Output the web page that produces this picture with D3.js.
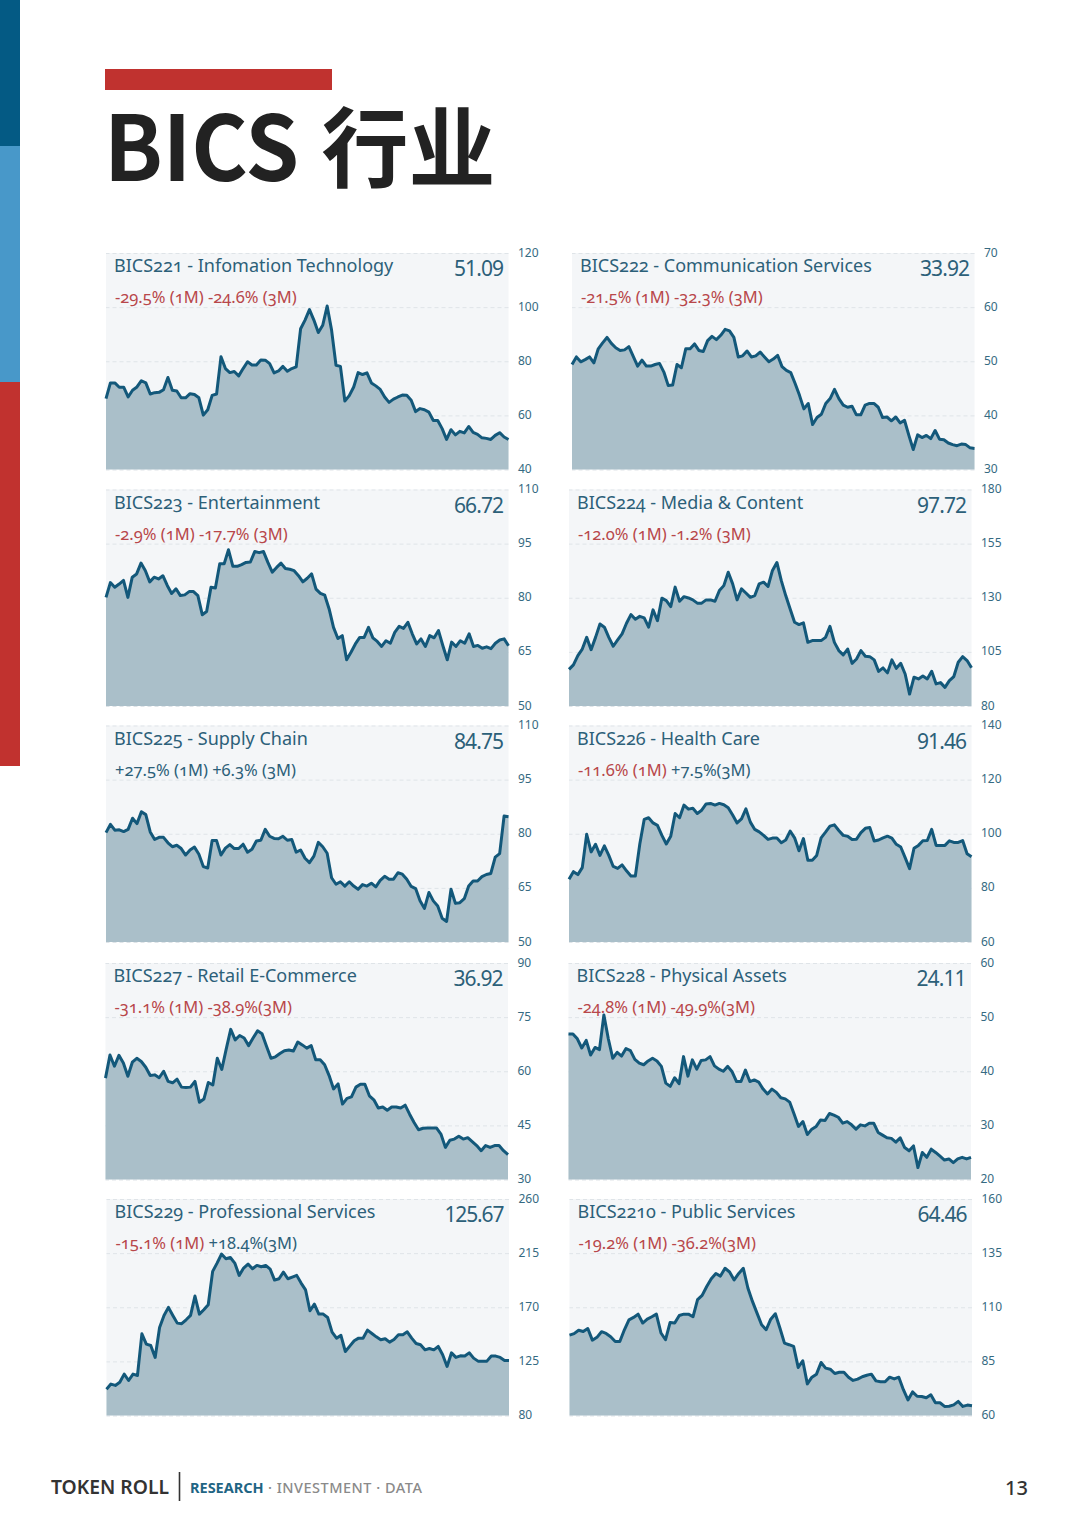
<!DOCTYPE html>
<html>
<head>
<meta charset="utf-8">
<script src="https://cdn.jsdelivr.net/npm/d3@7"></script>
<style>
  html, body { margin: 0; padding: 0; background: #fff; }
  svg { display: block; }
  text { font-family: "Noto Sans", sans-serif; }
  .old-nums { font-variant-numeric: oldstyle-nums; font-feature-settings: "onum" 1; }
</style>
</head>
<body>
<script>
// Index levels
var series221 = [66.2,72.0,72.0,70.4,70.4,66.8,69.3,70.5,72.8,72.0,67.9,68.4,68.5,69.5,74.0,69.3,69.0,66.5,66.5,68.0,67.7,66.5,60.1,62.1,67.4,67.9,81.7,77.3,75.8,76.2,74.6,77.3,79.8,78.6,78.6,80.5,80.4,79.1,75.7,76.4,78.1,76.3,77.3,77.9,92.0,95.2,99.1,95.2,90.6,93.3,100.4,91.5,78.5,78.1,65.3,67.3,70.5,75.8,75.1,75.7,72.0,70.9,69.6,66.8,64.8,66.0,66.8,67.5,67.4,65.6,61.4,62.5,62.1,61.2,58.1,58.1,55.1,51.1,54.7,52.8,54.1,53.5,55.9,53.7,53.0,51.7,51.5,51.1,52.6,53.6,52.0,51.1];
var series222 = [49.4,50.8,49.9,50.3,50.8,49.7,52.3,53.4,54.4,53.3,52.5,52.0,52.1,52.7,50.9,49.1,50.2,49.1,49.1,49.4,49.6,48.0,45.5,45.6,49.4,48.8,52.3,52.3,53.2,52.0,51.8,53.8,54.6,54.0,54.8,55.9,55.6,54.4,50.8,51.0,51.9,50.8,51.0,51.7,50.8,49.9,50.4,51.1,49.0,48.3,47.9,45.9,43.7,41.2,42.2,38.3,39.6,40.2,42.2,43.1,44.8,43.1,41.9,41.5,41.7,40.1,40.1,41.9,42.2,42.2,41.5,39.6,39.7,39.0,39.7,38.6,39.1,36.3,33.7,36.4,35.9,36.3,35.7,37.2,35.6,35.5,34.9,34.6,34.4,34.7,34.6,34.0,33.9];
var series223 = [80.1,84.2,82.9,83.8,84.8,80.1,85.7,86.6,89.6,87.5,84.4,85.7,85.2,86.1,83.4,81.2,82.5,80.6,80.8,81.7,81.7,80.6,75.3,76.2,82.9,82.7,89.4,89.4,93.3,88.7,88.7,89.2,89.8,89.9,92.8,92.5,92.8,89.8,87.1,88.4,89.6,88.1,87.9,87.5,86.1,84.4,85.4,86.6,82.4,81.2,80.7,76.9,71.8,68.7,69.5,62.8,64.9,67.2,69.0,69.0,71.8,68.9,67.9,66.5,68.1,67.4,70.4,72.1,71.5,73.2,70.0,67.2,68.6,66.5,69.5,68.9,70.9,66.7,62.8,67.7,66.5,68.1,67.4,70.0,66.5,66.8,66.0,66.4,65.9,67.4,68.3,68.6,66.7];
var series224 = [96.9,99.0,103.3,106.3,111.7,106.0,111.7,117.9,116.4,111.7,107.6,110.5,113.3,118.2,122.2,120.1,121.4,120.7,116.4,124.4,119.4,129.8,128.7,125.9,134.9,128.4,130.5,129.9,129.0,127.5,127.5,129.0,129.0,128.4,133.3,135.6,141.8,136.4,129.0,134.1,132.2,130.2,131.0,136.4,137.2,135.2,142.6,146.3,137.9,131.0,124.8,118.7,117.6,118.4,109.4,110.2,110.2,110.2,111.7,116.8,109.4,105.6,103.6,106.3,99.7,101.7,105.6,103.0,102.8,101.3,96.0,97.6,95.3,101.3,97.4,99.7,94.8,85.5,93.3,92.5,93.9,92.5,96.0,90.2,90.8,88.6,91.7,93.6,100.2,102.8,101.0,97.7];
var series225 = [80.3,82.6,81.0,81.1,80.6,81.2,84.3,82.8,86.1,85.3,80.5,78.4,79.0,79.0,77.5,76.4,76.8,75.9,74.1,75.5,76.3,74.3,70.9,70.5,78.1,78.1,74.1,76.0,77.0,75.9,75.9,77.1,74.9,75.7,78.0,78.2,81.2,79.3,78.7,78.6,79.3,78.2,78.4,74.9,75.5,73.2,72.0,73.8,77.6,76.4,74.6,67.8,66.0,66.7,65.5,66.7,65.5,64.6,65.9,65.5,66.3,65.3,67.1,68.2,67.4,67.4,69.2,68.8,67.4,65.4,64.8,61.4,59.3,63.7,61.4,60.0,56.6,55.7,64.6,60.7,60.9,62.0,65.5,66.9,66.9,68.1,68.7,69.0,73.5,74.5,84.9,84.7];
var series226 = [83.2,86.0,84.9,87.5,99.8,93.3,96.1,92.0,95.5,92.0,87.9,87.2,88.5,86.3,84.4,84.4,96.1,105.3,105.9,104.0,103.1,99.4,96.2,99.1,107.5,105.9,110.6,109.1,109.4,107.5,108.7,111.0,111.2,110.6,111.2,110.7,109.6,106.9,104.0,105.5,109.2,104.3,101.6,100.7,99.4,97.9,98.4,98.4,96.7,97.7,101.0,98.5,93.7,98.2,90.2,90.2,92.0,98.5,100.6,102.8,103.3,101.2,99.4,99.1,97.9,98.0,100.4,102.0,102.3,97.3,97.7,98.5,99.1,98.4,96.1,95.1,91.2,87.1,94.6,95.7,97.4,97.5,101.6,95.7,95.7,95.7,97.4,96.8,96.8,97.5,92.6,91.5];
var series227 = [58.1,64.5,61.4,64.4,62.3,58.6,62.5,63.6,62.7,61.1,58.8,59.0,58.2,60.0,57.2,56.8,57.8,55.6,55.5,55.6,57.2,51.4,52.3,56.9,56.2,63.6,60.5,66.2,71.6,68.7,69.9,69.2,67.1,69.2,71.2,70.4,66.9,63.6,64.0,64.9,65.7,65.9,65.6,68.1,67.3,66.4,67.1,63.2,63.2,61.8,58.8,55.1,56.5,50.9,52.5,52.9,55.6,56.4,56.4,53.2,52.1,49.8,50.1,49.2,50.1,50.1,49.8,50.6,48.1,45.8,43.8,44.2,44.3,44.3,44.3,42.6,38.9,40.9,41.2,42.0,41.2,41.6,40.5,39.4,38.0,39.4,38.9,39.4,39.4,38.0,36.9];
var series228 = [46.9,46.9,46.0,44.3,45.7,43.0,44.4,44.0,50.4,46.0,42.4,43.5,42.8,44.2,43.8,42.2,41.5,41.2,41.9,42.4,41.9,40.9,37.8,37.2,38.8,37.7,42.7,39.1,42.1,40.4,42.0,42.1,42.7,41.0,40.4,40.0,40.9,39.9,38.1,38.1,40.2,38.1,38.4,38.0,36.7,35.8,36.7,36.1,35.1,34.9,34.3,32.1,29.8,30.7,28.3,29.3,29.8,31.0,30.9,32.2,31.9,31.5,30.4,30.7,30.1,29.3,30.1,29.9,30.4,30.4,28.7,28.2,27.7,27.6,26.9,27.7,25.9,25.3,26.2,22.2,25.0,24.1,25.6,25.0,24.3,23.6,23.8,23.1,23.8,24.1,23.8,24.1];
var series229 = [101.9,106.1,105.0,107.7,114.4,109.1,114.4,113.3,147.9,139.3,138.2,128.3,153.2,163.2,169.9,163.2,156.8,156.3,159.6,163.2,179.3,164.3,167.9,172.1,199.8,206.7,214.2,210.3,211.4,206.7,196.5,202.6,205.9,202.0,204.8,203.7,204.8,201.7,192.6,193.7,199.2,193.7,195.1,196.5,190.1,184.5,167.1,172.6,164.3,164.3,161.5,149.3,144.3,146.6,133.2,137.7,142.1,144.3,144.3,151.0,148.2,145.4,143.0,143.8,141.0,143.2,147.1,147.1,149.6,144.3,139.9,138.8,134.6,135.7,134.6,137.4,130.5,120.8,132.1,128.3,129.6,129.4,132.1,127.7,125.2,125.2,125.2,129.4,129.4,128.3,125.8,125.7];
var series2210 = [97.1,97.8,99.4,98.8,100.2,94.8,96.1,98.7,97.9,96.4,94.2,94.2,99.6,104.2,105.3,106.8,102.7,104.5,105.6,106.8,98.1,95.0,103.0,102.7,106.2,106.8,106.8,105.6,113.5,115.5,119.6,123.2,125.6,124.4,128.0,126.3,122.6,125.6,128.0,118.9,112.7,107.3,101.9,99.6,104.5,107.0,100.4,93.4,92.7,91.9,82.2,85.3,74.6,77.7,79.1,84.5,81.9,81.4,79.4,80.0,80.0,77.7,76.2,76.8,77.9,78.6,79.1,76.0,75.6,75.6,77.7,76.9,77.7,71.9,67.2,70.9,68.9,68.8,68.2,69.6,65.9,65.9,64.2,64.3,64.9,66.5,64.2,64.8,64.5];

// Y axis tick labels of each panel
var ticks221 = [40, 60, 80, 100, 120];
var ticks222 = [30, 40, 50, 60, 70];
var ticks223 = [50, 65, 80, 95, 110];
var ticks224 = [80, 105, 130, 155, 180];
var ticks225 = [50, 65, 80, 95, 110];
var ticks226 = [60, 80, 100, 120, 140];
var ticks227 = [30, 45, 60, 75, 90];
var ticks228 = [20, 30, 40, 50, 60];
var ticks229 = [80, 125, 170, 215, 260];
var ticks2210 = [60, 85, 110, 135, 160];

var names = [
  "BICS221 - Infomation Technology", "BICS222 - Communication Services",
  "BICS223 - Entertainment", "BICS224 - Media & Content",
  "BICS225 - Supply Chain", "BICS226 - Health Care",
  "BICS227 - Retail E-Commerce", "BICS228 - Physical Assets",
  "BICS229 - Professional Services", "BICS2210 - Public Services"
];
var lastValues = ["51.09", "33.92", "66.72", "97.72", "84.75", "91.46", "36.92", "24.11", "125.67", "64.46"];
var change1M = ["-29.5% (1M)", "-21.5% (1M)", "-2.9% (1M)", "-12.0% (1M)", "+27.5% (1M)", "-11.6% (1M)", "-31.1% (1M)", "-24.8% (1M)", "-15.1% (1M)", "-19.2% (1M)"];
var change3M = ["-24.6% (3M)", "-32.3% (3M)", "-17.7% (3M)", "-1.2% (3M)", "+6.3% (3M)", "+7.5%(3M)", "-38.9%(3M)", "-49.9%(3M)", "+18.4%(3M)", "-36.2%(3M)"];
var allSeries = [series221, series222, series223, series224, series225, series226, series227, series228, series229, series2210];
var allTicks = [ticks221, ticks222, ticks223, ticks224, ticks225, ticks226, ticks227, ticks228, ticks229, ticks2210];

// Page layout
var svgWidth = 1080;
var svgHeight = 1527;
var panelWidth = 402.5;
var panelHeight = 216.5;
var rowTops = [253, 489.5, 725.5, 963, 1199];
var panelLefts = [106, 572, 106, 569, 106, 569, 105.5, 568.5, 106.5, 569.5];

var lineColor = "#13587a";
var areaColor = "#aabfc9";
var panelColor = "#f4f6f8";
var textColor = "#2c6079";
var redColor = "#b8474a";

var svg = d3.select("body")
    .append("svg")
    .attr("width", svgWidth)
    .attr("height", svgHeight);

// Left colour strip
var strip = [
  { y: 0, h: 146, c: "#045a84" },
  { y: 146, h: 236, c: "#4898c9" },
  { y: 382, h: 384, c: "#c1322f" }
];
svg.selectAll(".strip")
    .data(strip)
    .enter()
    .append("rect")
    .attr("x", 0)
    .attr("y", d => d.y)
    .attr("width", 20)
    .attr("height", d => d.h)
    .attr("fill", d => d.c);

// Heading
svg.append("rect")
    .attr("x", 105)
    .attr("y", 69)
    .attr("width", 227)
    .attr("height", 21)
    .attr("fill", "#c0322f");

svg.append("text")
    .attr("x", 104)
    .attr("y", 181)
    .attr("fill", "#222")
    .attr("textLength", 195)
    .attr("lengthAdjust", "spacingAndGlyphs")
    .style("font-family", '"Noto Sans CJK SC", sans-serif')
    .style("font-weight", 700)
    .style("font-size", "90px")
    .text("BICS");

svg.append("text")
    .attr("x", 321.5)
    .attr("y", 181)
    .attr("fill", "#222")
    .style("font-family", '"Noto Sans CJK SC", sans-serif')
    .style("font-weight", 700)
    .style("font-size", "87px")
    .text("行业");

// One panel per sector
names.forEach((name, i) => {
    var row = Math.floor(i / 2);
    var values = allSeries[i];
    var ticks = allTicks[i];

    var panel = svg.append("g")
        .attr("transform", `translate(${panelLefts[i]},${rowTops[row]})`);

    panel.append("rect")
        .attr("width", panelWidth)
        .attr("height", panelHeight)
        .attr("fill", panelColor);

    var xScale = d3.scaleLinear()
        .domain([0, values.length - 1])
        .range([0, panelWidth]);

    var yScale = d3.scaleLinear()
        .domain([ticks[0], ticks[ticks.length - 1]])
        .range([panelHeight, 0]);

    var yAxis = d3.axisRight(yScale)
        .tickValues(ticks)
        .tickSize(-panelWidth)
        .tickPadding(9.5);

    var axisGroup = panel.append("g")
        .attr("transform", `translate(${panelWidth},0)`)
        .call(yAxis);

    axisGroup.select(".domain").remove();
    axisGroup.selectAll("line")
        .attr("stroke", "#dfe4e8")
        .attr("stroke-dasharray", "4 3");
    axisGroup.selectAll("text")
        .attr("fill", "#356a82")
        .attr("dy", "0.25em")
        .style("font-family", '"Noto Sans", sans-serif')
        .style("font-size", "12px");

    var area = d3.area()
        .x((d, j) => xScale(j))
        .y0(panelHeight)
        .y1(d => yScale(d));

    var line = d3.line()
        .x((d, j) => xScale(j))
        .y(d => yScale(d));

    panel.append("path")
        .datum(values)
        .attr("d", area)
        .attr("fill", areaColor);

    panel.append("path")
        .datum(values)
        .attr("d", line)
        .attr("fill", "none")
        .attr("stroke", lineColor)
        .attr("stroke-width", 3)
        .attr("stroke-linejoin", "round");

    panel.append("text")
        .attr("class", "old-nums")
        .attr("x", 8)
        .attr("y", 19)
        .attr("fill", textColor)
        .style("font-size", "18px")
        .text(name);

    panel.append("text")
        .attr("x", panelWidth - 4.5)
        .attr("y", 23)
        .attr("text-anchor", "end")
        .attr("fill", textColor)
        .style("font-size", "21px")
        .attr("textLength", lastValues[i].length * 10)
        .text(lastValues[i]);

    var changeLabel = panel.append("text")
        .attr("class", "old-nums")
        .attr("x", 9)
        .attr("y", 50)
        .style("font-size", "16.5px");

    changeLabel.append("tspan")
        .attr("fill", change1M[i][0] == "+" ? textColor : redColor)
        .text(change1M[i] + " ");

    changeLabel.append("tspan")
        .attr("fill", change3M[i][0] == "+" ? textColor : redColor)
        .text(change3M[i]);
});

// Footer
svg.append("text")
    .attr("x", 51)
    .attr("y", 1494)
    .attr("fill", "#333")
    .attr("textLength", 118)
    .attr("lengthAdjust", "spacingAndGlyphs")
    .style("font-size", "20px")
    .style("font-weight", 600)
    .text("TOKEN ROLL");

svg.append("line")
    .attr("x1", 179.5)
    .attr("x2", 179.5)
    .attr("y1", 1472)
    .attr("y2", 1501)
    .attr("stroke", "#333")
    .attr("stroke-width", 1.6);

var footerText = svg.append("text")
    .attr("x", 190)
    .attr("y", 1493)
    .style("font-size", "14.5px");

footerText.append("tspan")
    .attr("fill", "#1f6584")
    .style("font-weight", 700)
    .text("RESEARCH");

footerText.append("tspan")
    .attr("fill", "#8a8a8a")
    .style("font-weight", 500)
    .style("letter-spacing", "0.5px")
    .text(" · INVESTMENT · DATA");

svg.append("text")
    .attr("x", 1028)
    .attr("y", 1495)
    .attr("text-anchor", "end")
    .attr("fill", "#333")
    .style("font-size", "20px")
    .style("font-weight", 500)
    .text("13");
</script>
</body>
</html>
